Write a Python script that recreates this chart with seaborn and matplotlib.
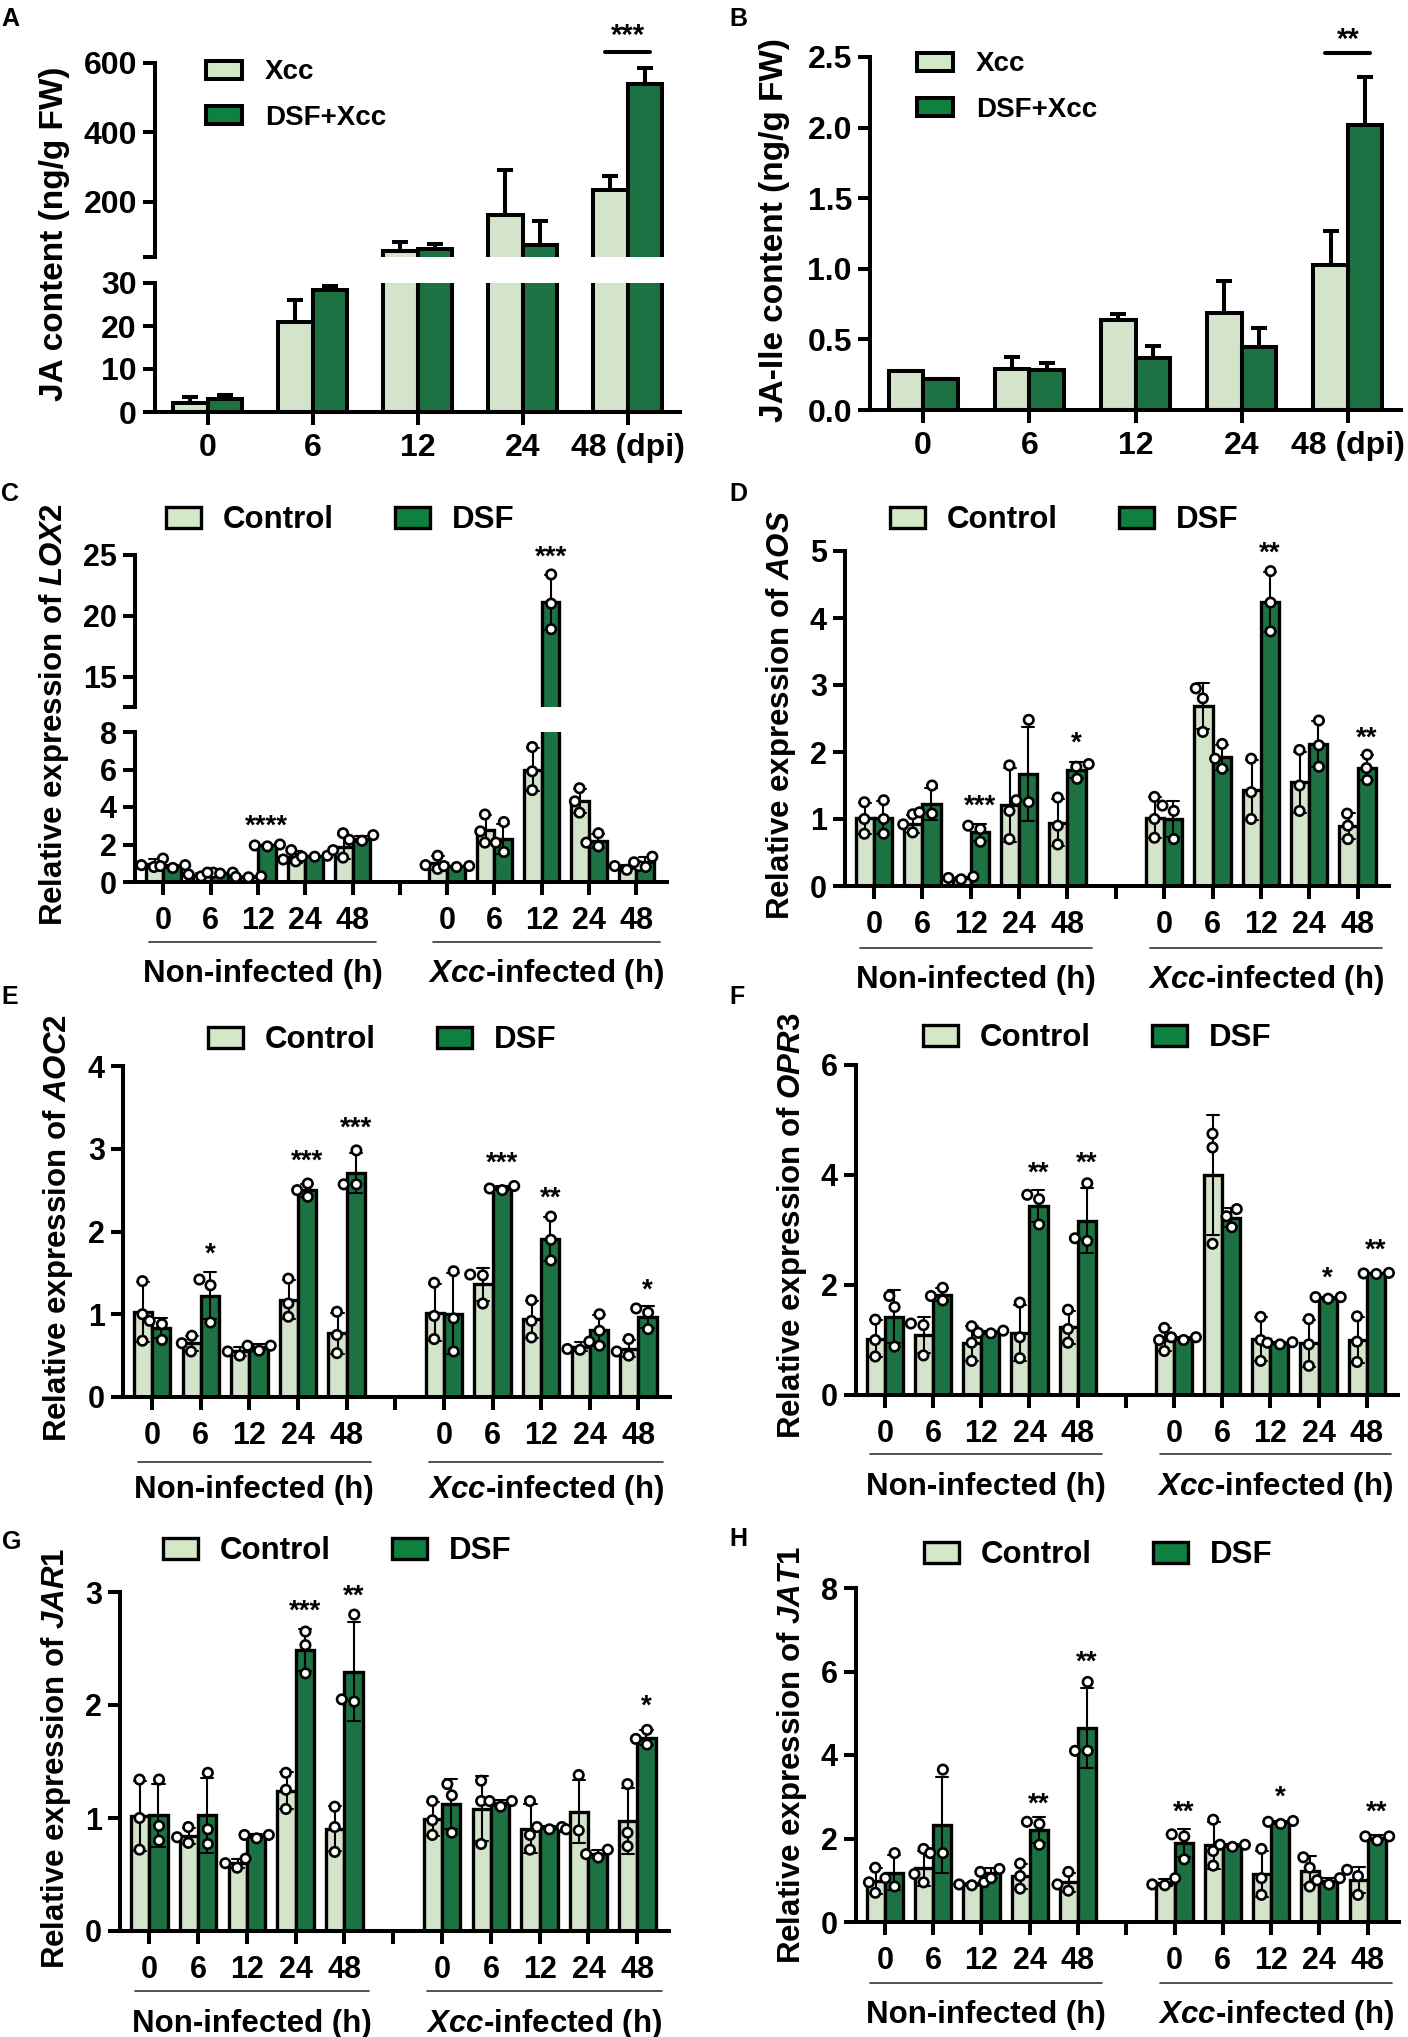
import numpy as np
import pandas as pd
import matplotlib
matplotlib.use("Agg")
import matplotlib.pyplot as plt
import seaborn as sns
from matplotlib.patches import Patch
from matplotlib import transforms
import warnings
warnings.filterwarnings("ignore")

sns.set_theme(style="ticks")
plt.rcParams["font.family"] = ["Liberation Sans", "DejaVu Sans"]
plt.rcParams["font.weight"] = "bold"
plt.rcParams["axes.labelweight"] = "bold"
plt.rcParams["mathtext.fontset"] = "custom"
plt.rcParams["mathtext.rm"] = "Liberation Sans:bold"
plt.rcParams["mathtext.it"] = "Liberation Sans:italic:bold"
plt.rcParams["mathtext.bf"] = "Liberation Sans:bold"
for k in ["axes.edgecolor", "xtick.color", "ytick.color", "text.color", "axes.labelcolor"]:
    plt.rcParams[k] = "black"

# ---------------- data ----------------
dpi_labels = ["0", "6", "12", "24", "48 (dpi)"]
ja_xcc_mean = [2.2, 21.0, 58.0, 160.0, 233.0]
ja_xcc_sd = [1.3, 5.0, 25.0, 130.0, 40.0]
ja_dsf_mean = [3.0, 28.4, 64.0, 74.0, 540.0]
ja_dsf_sd = [1.0, 0.8, 13.0, 69.0, 45.0]
jaile_xcc_mean = [0.278, 0.290, 0.637, 0.690, 1.024]
jaile_xcc_sd = [0.0, 0.083, 0.043, 0.223, 0.246]
jaile_dsf_mean = [0.217, 0.285, 0.370, 0.443, 2.020]
jaile_dsf_sd = [0.0, 0.045, 0.085, 0.140, 0.340]

hours = ["0", "6", "12", "24", "48"]
time_order = ["N0", "N6", "N12", "N24", "N48", "gap", "X0", "X6", "X12", "X24", "X48"]
gene_xticklabels = hours + [""] + hours

# replicates (3 per group), Non-infected and Xcc-infected
lox2_ctrl_ni = [[1.25, 0.9, 0.8], [0.3, 0.5, 0.4], [0.25, 0.3, 0.27], [1.7, 1.1, 1.2], [2.6, 1.3, 1.7]]
lox2_dsf_ni = [[0.85, 0.9, 0.75], [0.45, 0.5, 0.5], [1.9, 2.0, 1.95], [1.35, 1.4, 1.35], [2.25, 2.5, 2.2]]
lox2_ctrl_x = [[1.4, 0.7, 0.9], [3.6, 2.1, 2.7], [7.2, 4.9, 5.9], [5.0, 3.7, 4.3], [0.65, 0.85, 0.85]]
lox2_dsf_x = [[0.85, 0.85, 0.8], [3.2, 1.6, 2.1], [23.4, 21.0, 18.9], [2.6, 1.9, 2.1], [1.35, 1.05, 0.8]]

aos_ctrl_ni = [[1.25, 1.0, 0.78], [1.07, 0.92, 0.8], [0.1, 0.14, 0.12], [1.8, 1.12, 0.7], [1.32, 0.9, 0.62]]
aos_dsf_ni = [[1.28, 1.0, 0.78], [1.5, 1.1, 1.08], [0.85, 0.9, 0.66], [2.48, 1.25, 1.28], [1.6, 1.78, 1.82]]
aos_ctrl_x = [[1.33, 1.0, 0.72], [2.95, 2.8, 2.3], [1.9, 1.4, 1.0], [2.03, 1.5, 1.12], [1.08, 0.9, 0.7]]
aos_dsf_x = [[1.12, 1.2, 0.7], [2.12, 1.9, 1.75], [4.7, 4.23, 3.8], [2.47, 2.1, 1.78], [1.96, 1.76, 1.58]]

aoc2_ctrl_ni = [[1.4, 1.0, 0.68], [0.74, 0.65, 0.55], [0.6, 0.5, 0.55], [1.43, 1.13, 0.97], [1.03, 0.75, 0.53]]
aoc2_dsf_ni = [[0.92, 0.88, 0.69], [1.42, 1.35, 0.9], [0.62, 0.62, 0.56], [2.58, 2.5, 2.42], [2.98, 2.57, 2.57]]
aoc2_ctrl_x = [[1.38, 0.98, 0.7], [1.47, 1.48, 1.13], [1.17, 0.92, 0.72], [0.67, 0.57, 0.58], [0.7, 0.5, 0.55]]
aoc2_dsf_x = [[1.52, 0.95, 0.55], [2.5, 2.55, 2.52], [2.18, 1.9, 1.65], [1.0, 0.8, 0.62], [1.07, 1.02, 0.82]]

opr3_ctrl_ni = [[1.37, 1.0, 0.7], [1.3, 1.27, 0.72], [1.25, 0.95, 0.62], [1.68, 1.05, 0.67], [1.55, 1.2, 0.95]]
opr3_dsf_ni = [[1.8, 1.6, 0.88], [1.95, 1.8, 1.72], [1.12, 1.13, 1.17], [3.64, 3.56, 3.1], [3.85, 2.8, 2.85]]
opr3_ctrl_x = [[1.22, 1.0, 0.8], [4.75, 4.5, 2.75], [1.42, 1.0, 0.62], [1.38, 0.92, 0.53], [1.43, 0.97, 0.6]]
opr3_dsf_x = [[1.0, 1.05, 1.05], [3.38, 3.25, 3.05], [0.95, 0.96, 0.92], [1.75, 1.78, 1.78], [2.21, 2.2, 2.22]]

jar1_ctrl_ni = [[1.34, 1.0, 0.72], [0.92, 0.83, 0.78], [0.56, 0.64, 0.6], [1.4, 1.25, 1.08], [1.1, 0.92, 0.7]]
jar1_dsf_ni = [[1.34, 0.93, 0.8], [1.4, 0.9, 0.77], [0.82, 0.85, 0.85], [2.65, 2.53, 2.28], [2.8, 2.03, 2.05]]
jar1_ctrl_x = [[1.15, 0.98, 0.85], [1.33, 1.15, 0.77], [1.15, 0.85, 0.72], [1.38, 0.9, 0.89], [1.3, 0.87, 0.75]]
jar1_dsf_x = [[1.3, 1.2, 0.87], [1.15, 1.15, 1.1], [0.9, 0.92, 0.92], [0.65, 0.72, 0.68], [1.78, 1.7, 1.65]]

jat1_ctrl_ni = [[1.3, 0.95, 0.7], [1.75, 1.15, 0.95], [0.9, 0.95, 0.88], [1.4, 1.1, 0.8], [1.2, 0.9, 0.75]]
jat1_dsf_ni = [[1.65, 1.05, 0.85], [3.65, 1.65, 1.65], [1.2, 1.27, 1.05], [2.35, 2.4, 1.85], [5.75, 4.1, 4.1]]
jat1_ctrl_x = [[1.05, 0.9, 0.88], [2.45, 1.7, 1.35], [1.75, 1.05, 0.65], [1.55, 1.3, 0.85], [1.25, 1.1, 0.65]]
jat1_dsf_x = [[2.05, 2.1, 1.5], [1.85, 1.85, 1.8], [2.4, 2.42, 2.35], [1.0, 1.05, 0.9], [1.95, 2.05, 2.05]]

# significance marks: (position index, value at star centre, text)
stars_C_low = [(2, 3.4, "****")]
stars_C_up = [(8, 25.5, "***")]
stars_D = [(2, 1.31, "***"), (4, 2.25, "*"), (8, 5.08, "**"), (10, 2.33, "**")]
stars_E = [(1, 1.82, "*"), (3, 2.95, "***"), (4, 3.34, "***"), (7, 2.92, "***"), (8, 2.5, "**"), (10, 1.38, "*")]
stars_F = [(3, 4.18, "**"), (4, 4.35, "**"), (9, 2.27, "*"), (10, 2.77, "**")]
stars_G = [(3, 2.9, "***"), (4, 3.03, "**"), (10, 2.06, "*")]
stars_H = [(3, 3.0, "**"), (4, 6.42, "**"), (6, 2.83, "**"), (8, 3.17, "*"), (10, 2.81, "**")]

# ---------------- style ----------------
W, H = 1408, 2037
LIGHT = "#D2E8C6"
DARK = "#0E8040"
fig = plt.figure(figsize=(W / 100, H / 100), dpi=100)


def rect(l, t, r, b):
    return [l / W, 1 - b / H, (r - l) / W, (b - t) / H]


def style_axis(ax, bottom=True, tick_size=22, pad=8):
    sns.despine(ax=ax)
    for s in ["left", "bottom"]:
        ax.spines[s].set_linewidth(2.9)
    ax.tick_params(axis="both", width=2.9, length=9, labelsize=tick_size, direction="out")
    ax.tick_params(axis="x", pad=pad)
    ax.tick_params(axis="y", pad=4)
    ax.set_xlabel("")
    ax.set_ylabel("")
    if not bottom:
        ax.spines["bottom"].set_visible(False)
        ax.tick_params(axis="x", bottom=False, labelbottom=False)


def gene_df(ctrl_ni, dsf_ni, ctrl_x, dsf_x):
    rows = []
    for arr, trt, pre in [(ctrl_ni, "Control", "N"), (dsf_ni, "DSF", "N"),
                          (ctrl_x, "Control", "X"), (dsf_x, "DSF", "X")]:
        for t, reps in zip(hours, arr):
            for v in reps:
                rows.append({"time": pre + t, "treatment": trt, "value": v})
    return pd.DataFrame(rows)


def gene_axes(ax, df, ylim, yticks, yticklabels, bottom=True):
    sns.barplot(data=df, x="time", y="value", hue="treatment", order=time_order,
                hue_order=["Control", "DSF"], palette={"Control": LIGHT, "DSF": DARK},
                errorbar="sd", capsize=0.5, width=0.75, edgecolor="black", linewidth=2.4,
                err_kws={"color": "black", "linewidth": 1.5}, legend=False, ax=ax)
    ax.set_ylim(*ylim)
    ax.set_xlim(-0.6, 10.65)
    sns.swarmplot(data=df, x="time", y="value", hue="treatment", order=time_order,
                  hue_order=["Control", "DSF"], palette={"Control": "white", "DSF": "white"},
                  dodge=True, size=6.8, edgecolor="black", linewidth=1.9, legend=False,
                  zorder=3, ax=ax)
    ax.set_xlim(-0.6, 10.65)
    ax.set_ylim(*ylim)
    ax.set_yticks(yticks)
    ax.set_yticklabels(yticklabels)
    ax.set_xticks(range(len(time_order)))
    ax.set_xticklabels(gene_xticklabels)
    style_axis(ax, bottom=bottom)


def add_stars(ax, stars, fs=20, dodge=0.1875):
    for xi, y, s in stars:
        ax.annotate(s, xy=(xi + dodge, y), xytext=(0, -0.55 * fs), textcoords="offset points",
                    ha="center", va="baseline", fontsize=fs, fontweight="bold",
                    annotation_clip=False)


def gene_legend(ax, left_px, yc_px):
    handles = [Patch(facecolor=LIGHT, edgecolor="black", linewidth=2.4, label="Control"),
               Patch(facecolor=DARK, edgecolor="black", linewidth=2.4, label="DSF")]
    ax.legend(handles=handles, loc="center left", bbox_to_anchor=(left_px / W, 1 - yc_px / H),
              bbox_transform=fig.transFigure, ncol=2, frameon=False, fontsize=22.5,
              handlelength=1.12, handleheight=0.66, handletextpad=0.7, columnspacing=1.95,
              borderpad=0, borderaxespad=0)


def group_labels(ax, line_y, text_y):
    tr = transforms.blended_transform_factory(ax.transData, fig.transFigure)
    for x0, x1, lab in [(-0.3, 4.5, "Non-infected (h)"), (5.7, 10.5, r"$\mathit{Xcc}$-infected (h)")]:
        ax.plot([x0, x1], [1 - line_y / H] * 2, transform=tr, clip_on=False, color="#333333", lw=1.2)
        ax.text((x0 + x1) / 2, 1 - text_y / H, lab, transform=tr, ha="center", va="baseline",
                fontsize=22.5, fontweight="bold")


def content_axes(ax, xm, xs, dm, ds, ylim):
    df = pd.DataFrame({"dpi": dpi_labels * 2,
                       "group": ["Xcc"] * 5 + ["DSF+Xcc"] * 5,
                       "value": xm + dm})
    sns.barplot(data=df, x="dpi", y="value", hue="group", order=dpi_labels,
                hue_order=["Xcc", "DSF+Xcc"], palette={"Xcc": LIGHT, "DSF+Xcc": DARK},
                errorbar=None, width=0.65, edgecolor="black", linewidth=2.9, legend=False, ax=ax)
    for cont, sd in zip(ax.containers, [xs, ds]):
        cx = [p.get_x() + p.get_width() / 2 for p in cont]
        hy = [p.get_height() for p in cont]
        ax.errorbar(cx, hy, yerr=[np.zeros(len(sd)), sd], fmt="none", ecolor="black",
                    elinewidth=2.9, capsize=6, capthick=2.9, zorder=0.9)
    ax.set_ylim(*ylim)
    ax.set_xlim(-0.5, 4.5)


def content_legend(ax, left_px, yc_px):
    handles = [Patch(facecolor=LIGHT, edgecolor="black", linewidth=2.9, label="Xcc"),
               Patch(facecolor=DARK, edgecolor="black", linewidth=2.9, label="DSF+Xcc")]
    ax.legend(handles=handles, loc="center left", bbox_to_anchor=(left_px / W, 1 - yc_px / H),
              bbox_transform=fig.transFigure, frameon=False, fontsize=20,
              handlelength=1.3, handleheight=0.62, handletextpad=0.83, labelspacing=0.7,
              borderpad=0, borderaxespad=0)


def sig_bracket(ax, y_line, y_star, text):
    xc = [p.get_x() + p.get_width() / 2 for p in ax.containers[0]][4]
    dc = [p.get_x() + p.get_width() / 2 for p in ax.containers[1]][4]
    ax.plot([xc - 0.05, dc + 0.05], [y_line, y_line], color="black", lw=2.9, clip_on=False)
    ax.annotate(text, xy=((xc + dc) / 2, y_star), xytext=(0, -0.55 * 21), textcoords="offset points",
                ha="center", va="baseline", fontsize=21, fontweight="bold", annotation_clip=False)


# ---------------- Panel A (broken axis) ----------------
axA_up = fig.add_axes(rect(155, 63, 680, 257))
axA_lo = fig.add_axes(rect(155, 283, 680, 412))
content_axes(axA_up, ja_xcc_mean, ja_xcc_sd, ja_dsf_mean, ja_dsf_sd, (40, 600))
content_axes(axA_lo, ja_xcc_mean, ja_xcc_sd, ja_dsf_mean, ja_dsf_sd, (0, 30))
axA_up.set_yticks([40, 200, 400, 600])
axA_up.set_yticklabels(["", "200", "400", "600"])
axA_lo.set_yticks([0, 10, 20, 30])
style_axis(axA_up, bottom=False, tick_size=23)
style_axis(axA_lo, tick_size=23, pad=6)
axA_lo.set_xticks(range(5))
axA_lo.set_xticklabels(dpi_labels)
content_legend(axA_up, 206, 95)
sig_bracket(axA_up, 632, 700, "***")
fig.text(55 / W, 1 - 234 / H, "JA content (ng/g FW)", rotation=90, ha="center", va="center",
         fontsize=24, fontweight="bold")

# ---------------- Panel B ----------------
axB = fig.add_axes(rect(870, 57, 1401, 410))
content_axes(axB, jaile_xcc_mean, jaile_xcc_sd, jaile_dsf_mean, jaile_dsf_sd, (0, 2.5))
axB.set_yticks([0, 0.5, 1.0, 1.5, 2.0, 2.5])
axB.set_yticklabels(["0.0", "0.5", "1.0", "1.5", "2.0", "2.5"])
axB.set_xticks(range(5))
axB.set_xticklabels(dpi_labels)
style_axis(axB, tick_size=23, pad=6)
content_legend(axB, 917, 87)
sig_bracket(axB, 2.53, 2.68, "**")
fig.text(774 / W, 1 - 230 / H, "JA-Ile content (ng/g FW)", rotation=90, ha="center", va="center",
         fontsize=24, fontweight="bold")

# ---------------- Panel C (broken axis) ----------------
dfC = gene_df(lox2_ctrl_ni, lox2_dsf_ni, lox2_ctrl_x, lox2_dsf_x)
axC_up = fig.add_axes(rect(135, 555, 667, 707))
axC_lo = fig.add_axes(rect(135, 732, 667, 882))
gene_axes(axC_up, dfC, (12.5, 25), [12.5, 15, 20, 25], ["", "15", "20", "25"], bottom=False)
gene_axes(axC_lo, dfC, (0, 8), [0, 2, 4, 6, 8], ["0", "2", "4", "6", "8"])
add_stars(axC_lo, stars_C_low)
add_stars(axC_up, stars_C_up)
gene_legend(axC_up, 166, 520)
group_labels(axC_lo, 942, 982)
fig.text(54 / W, 1 - 715 / H, r"Relative expression of $\mathit{LOX2}$", rotation=90,
         ha="center", va="center", fontsize=22.5, fontweight="bold")

# ---------------- Panels D-H ----------------
panels = [
    (rect(845, 551, 1389, 886), (aos_ctrl_ni, aos_dsf_ni, aos_ctrl_x, aos_dsf_x), (0, 5),
     [0, 1, 2, 3, 4, 5], stars_D, (890, 520), (948, 988), (781, 715), "AOS"),
    (rect(123, 1066, 670, 1397), (aoc2_ctrl_ni, aoc2_dsf_ni, aoc2_ctrl_x, aoc2_dsf_x), (0, 4),
     [0, 1, 2, 3, 4], stars_E, (208, 1040), (1462, 1498), (58, 1228), "AOC2"),
    (rect(856, 1065, 1398, 1395), (opr3_ctrl_ni, opr3_dsf_ni, opr3_ctrl_x, opr3_dsf_x), (0, 6),
     [0, 2, 4, 6], stars_F, (923, 1038), (1454, 1495), (792, 1226), "OPR3"),
    (rect(120, 1592, 669, 1931), (jar1_ctrl_ni, jar1_dsf_ni, jar1_ctrl_x, jar1_dsf_x), (0, 3),
     [0, 1, 2, 3], stars_G, (163, 1551), (1991, 2032), (56, 1758), "JAR1"),
    (rect(856, 1588, 1399, 1922), (jat1_ctrl_ni, jat1_dsf_ni, jat1_ctrl_x, jat1_dsf_x), (0, 8),
     [0, 2, 4, 6, 8], stars_H, (924, 1555), (1983, 2023), (792, 1755), "JAT1"),
]
for r, arrs, ylim, yt, st, leg, grp, ylab, gene in panels:
    ax = fig.add_axes(r)
    gene_axes(ax, gene_df(*arrs), ylim, yt, [str(v) for v in yt])
    add_stars(ax, st)
    gene_legend(ax, *leg)
    group_labels(ax, *grp)
    fig.text(ylab[0] / W, 1 - ylab[1] / H, r"Relative expression of $\mathit{" + gene + "}$",
             rotation=90, ha="center", va="center", fontsize=22.5, fontweight="bold")

# ---------------- panel letters ----------------
for letter, x, y in [("A", 1, 7), ("B", 729, 7), ("C", 1, 482), ("D", 729, 482),
                     ("E", 1, 985), ("F", 729, 985), ("G", 2, 1530), ("H", 729, 1527)]:
    fig.text(x / W, 1 - y / H, letter, ha="left", va="top", fontsize=18, fontweight="bold")

fig.savefig("out.png", dpi=100)
